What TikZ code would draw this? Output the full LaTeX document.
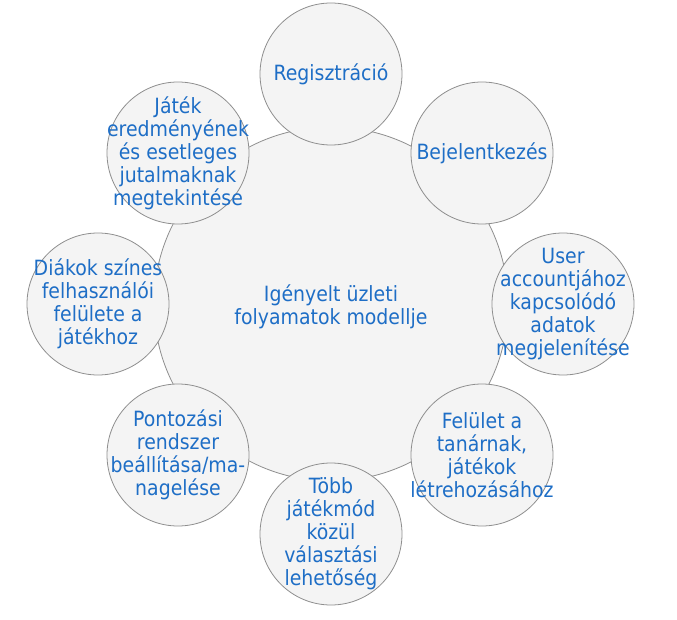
\documentclass[tikz,border=0pt]{standalone}
\usepackage{fontspec}
\setmainfont{DejaVu Sans Condensed}
\definecolor{txtblue}{HTML}{1E6EC6}
\definecolor{circfill}{HTML}{F4F4F4}
\definecolor{circline}{HTML}{8E8E8E}
\begin{document}
\begin{tikzpicture}[x=1pt,y=-1pt,
  bubble/.style={circle,draw=circline,fill=circfill,line width=0.8pt,inner sep=0pt,
    minimum size=142pt},
  hub/.style={bubble,minimum size=354pt},
  lbl/.style={align=center,text=txtblue,inner sep=0pt,
    font=\fontsize{21pt}{23pt}\selectfont}]
\useasboundingbox (0,0) rectangle (677,620);
\node[hub] (c) at (331,304) {};
\node[lbl] (ct) at (331,307) {Igényelt üzleti\\folyamatok modellje};
\node[bubble] (reg) at (331,74) {};
\node[lbl] at (reg) {Regisztráció};
\node[bubble] (bej) at (482,153) {};
\node[lbl] at (bej) {Bejelentkezés};
\node[bubble] (usr) at (563,304) {};
\node[lbl] at (usr) {User\\accountjához\\kapcsolódó\\adatok\\megjelenítése};
\node[bubble] (fel) at (482,455) {};
\node[lbl] at (fel) {Felület a\\tanárnak,\\játékok\\létrehozásához};
\node[bubble] (tob) at (331,534) {};
\node[lbl] at (tob) {Több\\játékmód\\közül\\választási\\lehetőség};
\node[bubble] (pon) at (178,455) {};
\node[lbl] at (pon) {Pontozási\\rendszer\\beállítása/ma-\\nagelése};
\node[bubble] (dia) at (98,304) {};
\node[lbl] at (dia) {Diákok színes\\felhasználói\\felülete a\\játékhoz};
\node[bubble] (jat) at (178,153) {};
\node[lbl] at (jat) {Játék\\eredményének\\és esetleges\\jutalmaknak\\megtekintése};
\end{tikzpicture}
\end{document}
